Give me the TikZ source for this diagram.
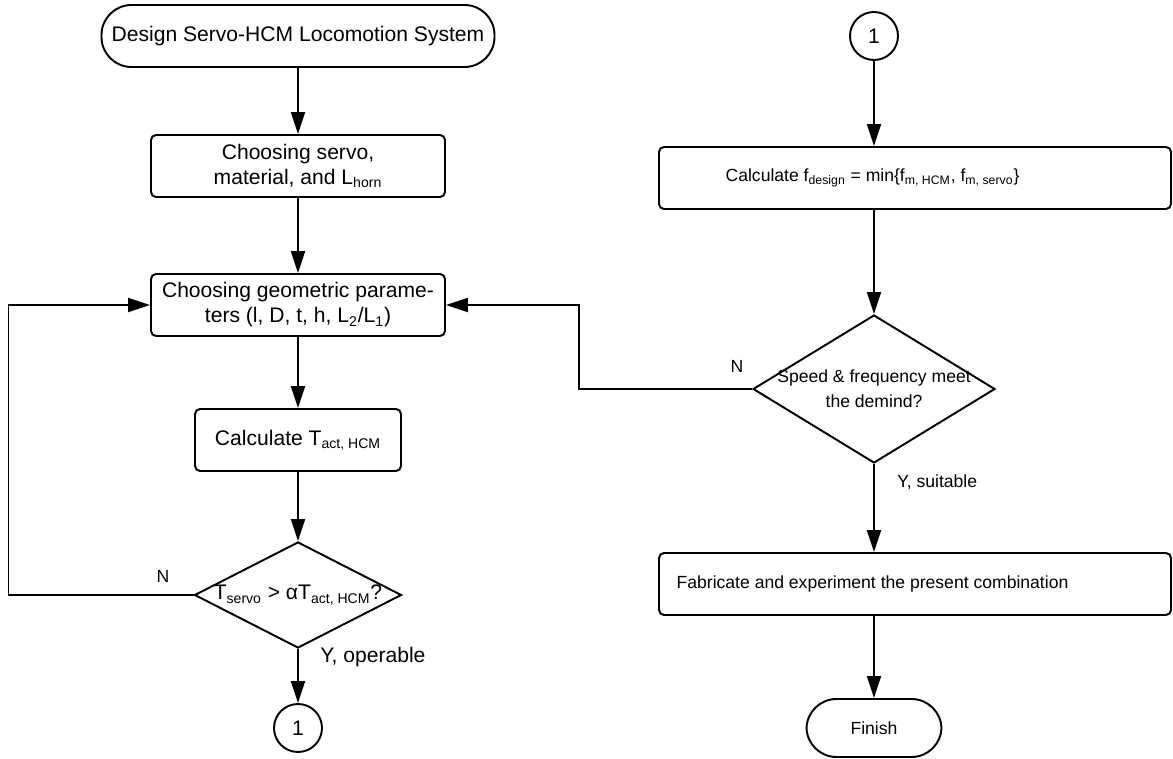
\documentclass[tikz,border=0pt]{standalone}
\usepackage{fontspec}
\setmainfont{Liberation Sans}
\usetikzlibrary{arrows.meta,positioning,shapes.geometric}

\begin{document}
\begin{tikzpicture}[
  x=0.2mm, y=-0.2mm,
  font=\fontsize{12}{14.2}\selectfont,
  small/.style={font=\fontsize{10}{14.2}\selectfont},
  terminal/.style={
    draw,
    line width=1.1pt,
    rounded corners=6mm,
    align=center,
    minimum height=12.4mm
  },
  process/.style={
    draw,
    line width=1.1pt,
    rounded corners=1mm,
    align=center,
    minimum width=58.8mm,
    minimum height=12.4mm
  },
  wide/.style={
    process,
    small,
    inner xsep=0pt,
    minimum width=102.4mm
  },
  decision/.style={
    draw,
    shape=diamond,
    line width=1.1pt,
    inner sep=0pt,
    align=center
  },
  connector/.style={
    draw,
    circle,
    line width=1.1pt,
    minimum size=9.6mm,
    inner sep=0pt
  },
  branch/.style={inner sep=0pt},
  arrow/.style={-{Triangle[length=4.4mm,width=2.8mm]}, line width=1.1pt}
]
\useasboundingbox (0,0) rectangle (1173,759);

\node[terminal, minimum width=78.6mm] (start) at (298,36) {Design Servo-HCM Locomotion System};
\node[process] (servo) at (298,166) {Choosing servo,\\material, and L\textsubscript{horn}};
\node[process] (geom) at (298,305) {Choosing geometric parame-\\ters (l, D, t, h, L\textsubscript{2}/L\textsubscript{1})};
\node[process, minimum width=41.2mm] (torque) at (298,440) {Calculate T\textsubscript{act, HCM}};
\node[decision, minimum width=41.4mm, minimum height=21.2mm] (operable) at (298,595)
  {\makebox[0pt]{T\textsubscript{servo} > αT\textsubscript{act, HCM}?}};
\node[connector] (jumpa) at (298,728) {1};

\node[connector] (jumpb) at (874,36) {1};
\node[wide] (freq) at (915,178)
  {\makebox[85.4mm]{Calculate f\textsubscript{design} = min\{f\textsubscript{m, HCM}, f\textsubscript{m, servo}\}}\hspace{17mm}};
\node[decision, small, minimum width=48.4mm, minimum height=29.6mm] (meet) at (874,389)
  {\makebox[0pt]{Speed \& frequency meet}\\\makebox[0pt]{the demind?}};
\node[wide] (fab) at (915,584)
  {\makebox[85.4mm]{Fabricate and experiment the present combination}\hspace{17mm}};
\node[terminal, small, minimum width=27mm, minimum height=11.6mm] (finish) at (874,728) {Finish};

\node[branch, small] (nleft) at (163,576) {N};
\node[branch, anchor=west] (yleft) at (320,657) {Y, operable};
\node[branch, small] (nright) at (737,366) {N};
\node[branch, small, anchor=west] (yright) at (897,482) {Y, suitable};

\draw[arrow] (start) -- (servo);
\draw[arrow] (servo) -- (geom);
\draw[arrow] (geom) -- (torque);
\draw[arrow] (torque) -- (operable);
\draw[arrow] (operable) -- (jumpa);
\draw[arrow] (operable.west) -- ++(-185,0) |- (geom.west);

\draw[arrow] (jumpb) -- (jumpb |- freq.north);
\draw[arrow] (meet.north |- freq.south) -- (meet);
\draw[arrow] (meet) -- (meet |- fab.north);
\draw[arrow] (finish |- fab.south) -- (finish);
\draw[arrow] (meet.west) -- ++(-173,0) |- (geom.east);

\end{tikzpicture}
\end{document}
